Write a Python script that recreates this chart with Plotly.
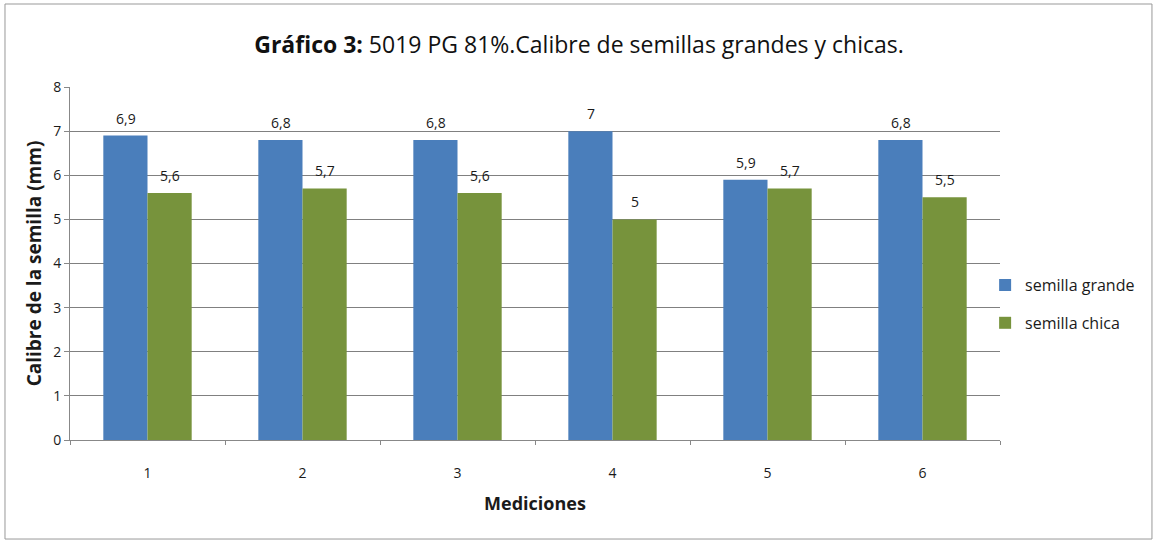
import plotly.graph_objects as go

categorias = ["1", "2", "3", "4", "5", "6"]
semilla_grande = [6.9, 6.8, 6.8, 7.0, 5.9, 6.8]
semilla_chica = [5.6, 5.7, 5.6, 5.0, 5.7, 5.5]

FONT = "Open Sans, Noto Sans, sans-serif"

def fmt(v):
    return ("%g" % v).replace(".", ",")

fig = go.Figure()
fig.add_trace(go.Bar(x=categorias, y=semilla_grande, name="semilla grande",
                     legendgroup="g", marker=dict(color="#4A7EBB", line=dict(width=0))))
fig.add_trace(go.Bar(x=categorias, y=semilla_chica, name="semilla chica",
                     legendgroup="c", marker=dict(color="#77933C", line=dict(width=0))))

annotations = []
for serie, shift in ((semilla_grande, -22), (semilla_chica, 22)):
    for idx, val in enumerate(serie):
        annotations.append(dict(x=idx, y=val, xref="x", yref="y", text=fmt(val),
                                showarrow=False, xshift=shift, yshift=6, yanchor="bottom",
                                font=dict(size=14, family=FONT, color="#1a1a1a")))

fig.update_layout(
    width=1158, height=543,
    margin=dict(l=70, r=158, t=87, b=103),
    paper_bgcolor="white", plot_bgcolor="white",
    barmode="group", bargap=0.43, bargroupgap=0,
    font=dict(family=FONT, color="#1a1a1a", size=13),
    title=dict(text="<b>Gráfico 3:</b> 5019 PG 81%.Calibre de semillas grandes y chicas.",
               x=0.5, xref="container", xanchor="center", y=0.917, yanchor="middle",
               font=dict(size=23, family=FONT, color="#111")),
    legend=dict(x=0.984, y=0.385, xanchor="left", yanchor="middle",
                font=dict(size=16, family=FONT), tracegroupgap=14, itemwidth=30,
                traceorder="grouped", bgcolor="rgba(0,0,0,0)"),
    showlegend=True,
    xaxis=dict(type="category", range=[-0.5, 5.5],
               title=dict(text="<b>Mediciones</b>", font=dict(size=18, family=FONT), standoff=16),
               showline=True, linecolor="#888", linewidth=1,
               ticks="outside", tickson="boundaries", ticklen=4, tickcolor="#888",
               ticklabelstandoff=20,
               tickfont=dict(size=14), showgrid=False),
    yaxis=dict(title=dict(text="<b>Calibre de la semilla (mm)</b>", font=dict(size=19, family=FONT), standoff=6),
               range=[0, 8], dtick=1, showline=True, linecolor="#888", linewidth=1,
               showgrid=True, gridcolor="#808080", gridwidth=1.3,
               ticks="outside", ticklen=5, tickcolor="#888", tickfont=dict(size=14),
               zeroline=False),
    annotations=annotations,
    shapes=[dict(type="rect", xref="paper", yref="paper",
                 x0=-0.0699, x1=1.1634, y0=-0.2805, y1=1.2351,
                 line=dict(color="#999", width=1), fillcolor="rgba(0,0,0,0)", layer="below")],
)

fig.write_html("out.html", config={"displayModeBar": False},
               post_script="document.body.style.margin='0';document.body.style.padding='0';")
